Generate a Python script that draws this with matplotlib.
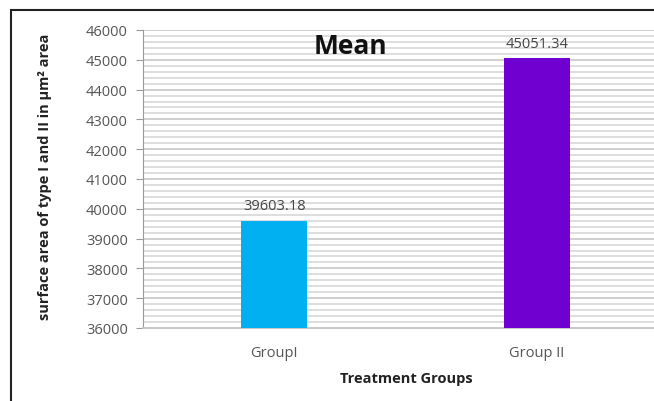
import matplotlib
matplotlib.use("Agg")
import matplotlib.pyplot as plt
from matplotlib.patches import Rectangle
from matplotlib.ticker import MultipleLocator

categories = ["GroupI", "Group II"]
values = [39603.18, 45051.34]
value_labels = ["39603.18", "45051.34"]
colors = ["#00b0f0", "#7000d0"]
y_ticks = [36000, 37000, 38000, 39000, 40000, 41000, 42000, 43000, 44000, 45000, 46000]

plt.rcParams['font.family'] = ['Open Sans', 'DejaVu Sans']

fig = plt.figure(figsize=(6.54, 4.02), dpi=100)
fig.patch.set_facecolor("white")

# outer frame (extends past right/bottom edges)
fig.patches.append(Rectangle((10.5/654, -0.1), 1.2, 1 - 10.5/402 + 0.1,
                             transform=fig.transFigure, fill=False,
                             edgecolor="#222222", linewidth=1.5, zorder=0))

ax = fig.add_axes([143/654, 1 - 329/402, (668 - 143)/654, (329 - 31)/402])
x = list(range(len(categories)))
ax.bar(x, values, width=0.25, color=colors, zorder=3)
ax.set_xlim(-0.5, 1.5)
ax.set_ylim(36000, 46000)
ax.set_yticks(y_ticks)
ax.yaxis.set_minor_locator(MultipleLocator(200))
ax.grid(axis="y", which="minor", color="#dedede", linewidth=1.4, zorder=0)
ax.grid(axis="y", which="major", color="#cfcfcf", linewidth=1.4, zorder=0)
ax.set_axisbelow(True)

for s in ["top", "right"]:
    ax.spines[s].set_visible(False)
ax.spines["left"].set_color("#9a9a9a")
ax.spines["bottom"].set_color("#c8c8c8")
ax.spines["bottom"].set_linewidth(1.4)
ax.tick_params(axis="y", which="major", length=5, color="#9a9a9a",
               labelsize=10.5, labelcolor="#555555", pad=6)
ax.tick_params(axis="y", which="minor", length=0)
ax.tick_params(axis="x", length=0, labelsize=10.5, labelcolor="#555555", pad=12)
ax.set_xticks(x)
ax.set_xticklabels(categories)

for xi, v, lab in zip(x, values, value_labels):
    ax.text(xi, v + 260, lab, ha="center", va="bottom", fontsize=10.5, color="#444444")

fig.text(350/654, 1 - 46/402, "Mean", ha="center", va="center",
         fontsize=19, fontweight="bold", color="#111111")
fig.text(406/654, 1 - 379/402, "Treatment Groups", ha="center", va="center",
         fontsize=10.5, fontweight="bold", color="#222222")
fig.text(45/654, 1 - 177/402, "surface area of type I and II in µm² area",
         ha="center", va="center", rotation=90,
         fontsize=10.5, fontweight="bold", color="#222222")

fig.savefig("out.png", dpi=100, facecolor="white")
